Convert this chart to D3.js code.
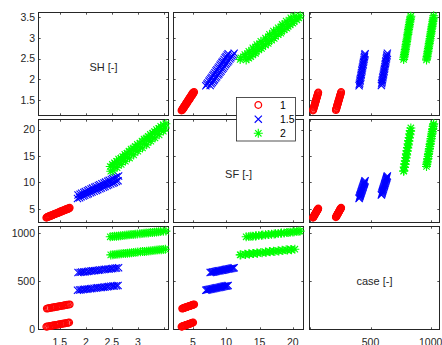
<!DOCTYPE html>
<html><head><meta charset="utf-8">
<script src="https://cdn.jsdelivr.net/npm/d3@7"></script>
<style>html,body{margin:0;padding:0;background:#fff;overflow:hidden}svg{display:block}</style>
</head><body>
<svg id="c" width="442" height="345"></svg>
<script>
// ---------- data ----------
const groupLabels = ["1", "1.5", "2"];
const groupColors = ["#ff0000", "#0000ff", "#00ff00"];
const groupMarkers = ["o", "x", "*"];
const varLabels = ["SH [-]", "SF [-]", "case [-]"];

// group 1 (red circles) – two case blocks
const caseG1 = [22,24,26,29,31,33,35,37,40,42,44,46,48,51,53,55,57,59,62,64,66,
                212,214,216,219,221,223,225,227,230,232,234,236,238,241,243,245,247,249,252,254,256];
const shG1   = [1.24,1.26,1.28,1.31,1.33,1.35,1.37,1.39,1.42,1.44,1.46,1.48,1.50,1.53,1.55,1.57,1.59,1.61,1.64,1.66,1.68,
                1.25,1.27,1.29,1.31,1.34,1.36,1.38,1.40,1.42,1.45,1.47,1.49,1.51,1.53,1.56,1.58,1.60,1.62,1.64,1.67,1.69];
const sfG1   = [3.30,3.39,3.47,3.56,3.65,3.74,3.82,3.91,4.00,4.09,4.18,4.26,4.35,4.44,4.53,4.61,4.70,4.79,4.88,4.96,5.05,
                3.40,3.49,3.58,3.67,3.76,3.85,3.94,4.03,4.12,4.21,4.30,4.39,4.48,4.57,4.66,4.75,4.84,4.93,5.02,5.11,5.20];

// group 1.5 (blue crosses)
const caseG15 = [405,407,410,412,414,416,419,421,423,425,428,430,432,434,437,439,441,443,446,448,450,452,455,
                 590,592,595,597,599,601,604,606,608,610,613,615,617,619,622,624,626,628,631,633,635,637,640];
const shG15   = [1.84,1.88,1.91,1.95,1.98,2.02,2.05,2.09,2.12,2.16,2.20,2.23,2.27,2.30,2.34,2.37,2.41,2.44,2.48,2.52,2.55,2.59,2.62,
                 1.85,1.89,1.92,1.96,1.99,2.03,2.06,2.10,2.13,2.17,2.20,2.24,2.27,2.31,2.35,2.38,2.42,2.45,2.49,2.52,2.56,2.59,2.63];
const sfG15   = [6.95,7.10,7.25,7.41,7.56,7.71,7.86,8.01,8.17,8.32,8.47,8.62,8.78,8.93,9.08,9.23,9.38,9.54,9.69,9.84,9.99,10.15,10.30,
                 7.60,7.76,7.93,8.09,8.25,8.42,8.58,8.75,8.91,9.07,9.24,9.40,9.56,9.73,9.89,10.05,10.22,10.38,10.55,10.71,10.87,11.04,11.20];

// group 2 (green asterisks)
const caseG2 = [775,777,780,782,784,787,789,791,793,796,798,800,803,805,807,810,812,814,816,819,821,823,826,828,830,833,835,
                965,967,970,972,974,977,979,981,983,986,988,990,993,995,997,1000,1002,1004,1006,1009,1011,1013,1016,1018,1020,1023,1025];
const shG2   = [2.48,2.52,2.56,2.60,2.64,2.68,2.72,2.76,2.80,2.84,2.88,2.92,2.96,3.00,3.05,3.09,3.13,3.17,3.21,3.25,3.29,3.33,3.37,3.41,3.45,3.49,3.53,
                2.47,2.51,2.55,2.59,2.63,2.67,2.71,2.75,2.79,2.83,2.87,2.91,2.95,2.99,3.04,3.08,3.12,3.16,3.20,3.24,3.28,3.32,3.36,3.40,3.44,3.49,3.54];
const sfG2   = [12.1,12.2,12.9,12.8,13.5,13.4,14.1,14.0,14.7,14.6,15.4,15.2,16.0,15.9,16.6,16.5,17.3,17.1,17.9,17.8,18.5,18.4,19.2,19.0,19.8,19.7,20.3,
                13.0,13.4,13.7,14.0,14.4,14.5,14.9,15.3,15.5,15.9,16.3,16.4,16.8,17.2,17.4,17.8,18.2,18.3,18.7,19.1,19.3,19.6,20.0,20.2,20.6,20.9,21.1];

// ticks
const tickSH = [1.5, 2, 2.5, 3, 3.5];
const tickSF = [5, 10, 15, 20];
const tickCase = [0, 500, 1000];
const xLabelSH = [1.5, 2, 2.5, 3];
const xLabelSF = [5, 10, 15, 20];
const xLabelCase = [500, 1000];
const yLabelSH = [1.5, 2, 2.5, 3, 3.5];
const yLabelSF = [5, 10, 15, 20];
const yLabelCase = [0, 500, 1000];

// axis limits
const xDomains = [[1.09, 3.59], [2.1, 21.6], [-7, 1073]];
const yDomains = [[1.12, 3.62], [2.4, 21.9], [-7, 1073]];

// ---------- build ----------
const groupsData = [
  {cs: caseG1, sh: shG1, sf: sfG1},
  {cs: caseG15, sh: shG15, sf: sfG15},
  {cs: caseG2, sh: shG2, sf: sfG2}
].map((g, gi) => g.cs.map((c, i) => ({g: gi, v: [g.sh[i], g.sf[i], c]})));

const varTicks = [tickSH, tickSF, tickCase];
const xLabels = [xLabelSH, xLabelSF, xLabelCase];
const yLabels = [yLabelSH, yLabelSF, yLabelCase];

const colLeft = [38.5, 173.5, 309.5];
const colW = 130;
const rowTop = [12.5, 119.5, 226.5];
const rowH = 103;
const ink = "#262626";
const font = "'Liberation Sans', Arial, Helvetica, sans-serif";
const fmt = d => String(d);

const svg = d3.select("#c");

function drawMarker(sel, type, color) {
  if (type === "o") {
    sel.append("circle").attr("r", 3.3).attr("fill", "none").attr("stroke", color).attr("stroke-width", 1.3);
  } else if (type === "x") {
    sel.append("path").attr("d", "M-3.6,-3.6L3.6,3.6M-3.6,3.6L3.6,-3.6").attr("fill", "none").attr("stroke", color).attr("stroke-width", 1.1);
  } else {
    sel.append("path").attr("d", "M-4.5,0H4.5M0,-4.5V4.5M-3.2,-3.2L3.2,3.2M-3.2,3.2L3.2,-3.2").attr("fill", "none").attr("stroke", color).attr("stroke-width", 1.1);
  }
}

for (let r = 0; r < 3; r++) {
  for (let c = 0; c < 3; c++) {
    const x = d3.scaleLinear().domain(xDomains[c]).range([colLeft[c], colLeft[c] + colW]);
    const y = d3.scaleLinear().domain(yDomains[r]).range([rowTop[r] + rowH, rowTop[r]]);
    const g = svg.append("g");
    g.append("rect").attr("x", colLeft[c]).attr("y", rowTop[r]).attr("width", colW).attr("height", rowH)
      .attr("fill", "#fff").attr("stroke", ink).attr("stroke-width", 1);
    const tl = 2.2;
    varTicks[c].forEach(t => {
      const px = Math.round(x(t)) + 0.5;
      g.append("line").attr("x1", px).attr("x2", px).attr("y1", rowTop[r] + rowH).attr("y2", rowTop[r] + rowH - tl).attr("stroke", ink).attr("stroke-width", 0.8);
      g.append("line").attr("x1", px).attr("x2", px).attr("y1", rowTop[r]).attr("y2", rowTop[r] + tl).attr("stroke", ink).attr("stroke-width", 0.8);
    });
    varTicks[r].forEach(t => {
      const py = Math.round(y(t)) + 0.5;
      g.append("line").attr("y1", py).attr("y2", py).attr("x1", colLeft[c]).attr("x2", colLeft[c] + tl).attr("stroke", ink).attr("stroke-width", 0.8);
      g.append("line").attr("y1", py).attr("y2", py).attr("x1", colLeft[c] + colW).attr("x2", colLeft[c] + colW - tl).attr("stroke", ink).attr("stroke-width", 0.8);
    });
    if (c === 0) {
      yLabels[r].forEach(t => {
        g.append("text").attr("x", 35).attr("y", y(t)).attr("dy", "0.36em").attr("text-anchor", "end")
          .attr("font-family", font).attr("font-size", 10.5).attr("fill", ink).text(fmt(t));
      });
    }
    if (r === 2) {
      xLabels[c].forEach(t => {
        g.append("text").attr("x", x(t)).attr("y", 345.5).attr("text-anchor", "middle")
          .attr("font-family", font).attr("font-size", 10.5).attr("fill", ink).text(fmt(t));
      });
    }
    if (r === c) {
      g.append("text").attr("x", colLeft[c] + colW / 2).attr("y", rowTop[r] + rowH / 2 + 7)
        .attr("text-anchor", "middle").attr("font-family", font).attr("font-size", 11).attr("fill", ink)
        .text(varLabels[r]);
      continue;
    }
    groupsData.forEach((pts, gi) => {
      pts.forEach(p => {
        const m = g.append("g").attr("transform", `translate(${x(p.v[c])},${y(p.v[r])})`);
        drawMarker(m, groupMarkers[gi], groupColors[gi]);
      });
    });
  }
}

// legend
const lg = svg.append("g");
lg.append("rect").attr("x", 236.5).attr("y", 97.5).attr("width", 59).attr("height", 43.5)
  .attr("fill", "#fff").attr("stroke", ink).attr("stroke-width", 0.8);
const legY = d3.scalePoint().domain(groupLabels).range([105, 133.3]);
groupLabels.forEach((lab, i) => {
  const m = lg.append("g").attr("transform", `translate(258.3,${legY(lab)})`);
  drawMarker(m, groupMarkers[i], groupColors[i]);
  lg.append("text").attr("x", 280).attr("y", legY(lab)).attr("dy", "0.36em")
    .attr("font-family", font).attr("font-size", 10.5).attr("fill", "#000").text(lab);
});
</script>
</body></html>
